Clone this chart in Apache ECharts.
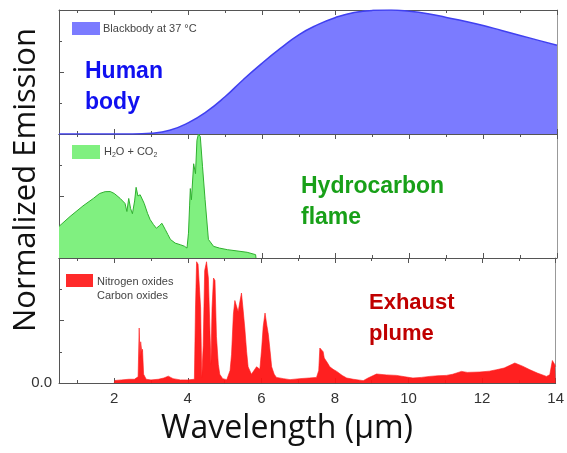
<!DOCTYPE html>
<html>
<head>
<meta charset="utf-8">
<script src="https://cdn.jsdelivr.net/npm/echarts@6/dist/echarts.min.js"></script>
<style>html,body{margin:0;padding:0;background:#fff}#c{width:567px;height:453px}</style>
</head>
<body>
<div id="c"></div>
<script>
// ---- data ----
const xMin = 0.5, xMax = 14;
const majorTickValues = [2, 4, 6, 8, 10, 12, 14];
const minorTickValues = [1, 3, 5, 7, 9, 11, 13];
const yLabelValues = [0];

const blackbodyX = [0.5, 1, 1.5, 2, 2.5, 3, 3.5, 4, 4.5, 5, 5.5, 6, 6.5, 7, 7.5, 8, 8.5, 9, 9.5, 10, 10.5, 11, 11.5, 12, 12.5, 13, 13.5, 14];
const blackbodyY = [0, 0, 0, 0, 0, 0.006, 0.03, 0.09, 0.18, 0.30, 0.44, 0.57, 0.69, 0.80, 0.88, 0.94, 0.98, 0.997, 1.0, 0.99, 0.97, 0.94, 0.91, 0.875, 0.835, 0.795, 0.755, 0.715];

const flameX = [0.5, 0.8, 1.15, 1.43, 1.6, 1.75, 1.89, 2.0, 2.16, 2.29, 2.34, 2.39, 2.44, 2.49, 2.55, 2.59, 2.64, 2.70, 2.81, 2.9, 2.97, 3.06, 3.14, 3.22, 3.29, 3.38, 3.45, 3.52, 3.65, 3.79, 3.9, 3.97, 4.01, 4.04, 4.06, 4.09, 4.15, 4.2, 4.24, 4.28, 4.33, 4.39, 4.46, 4.55, 4.69, 4.85, 5.07, 5.3, 5.6, 5.83, 5.84];
const flameY = [0.255, 0.335, 0.42, 0.48, 0.52, 0.535, 0.536, 0.52, 0.48, 0.44, 0.375, 0.48, 0.40, 0.357, 0.46, 0.57, 0.50, 0.51, 0.44, 0.36, 0.31, 0.27, 0.24, 0.26, 0.28, 0.23, 0.19, 0.15, 0.12, 0.107, 0.095, 0.08, 0.20, 0.42, 0.56, 0.47, 0.76, 0.68, 0.95, 1.0, 0.98, 0.74, 0.47, 0.15, 0.094, 0.08, 0.067, 0.058, 0.046, 0.027, 0];

const exhaustX = [2.0, 2.02, 2.2, 2.4, 2.55, 2.65, 2.68, 2.7, 2.72, 2.75, 2.77, 2.8, 2.87, 3.0, 3.2, 3.35, 3.47, 3.6, 3.8, 4.0, 4.18, 4.21, 4.24, 4.28, 4.31, 4.35, 4.38, 4.42, 4.46, 4.51, 4.56, 4.6, 4.63, 4.66, 4.7, 4.74, 4.78, 4.83, 4.87, 4.95, 5.06, 5.15, 5.19, 5.24, 5.28, 5.37, 5.41, 5.46, 5.5, 5.55, 5.6, 5.64, 5.73, 5.8, 5.87, 5.96, 6.01, 6.05, 6.1, 6.15, 6.19, 6.24, 6.28, 6.35, 6.41, 6.6, 6.78, 7.05, 7.3, 7.5, 7.56, 7.59, 7.64, 7.68, 7.71, 7.8, 7.86, 7.95, 8.05, 8.2, 8.32, 8.5, 8.77, 8.9, 9.13, 9.4, 9.67, 9.9, 10.12, 10.35, 10.58, 10.8, 11.03, 11.2, 11.44, 11.6, 11.94, 12.2, 12.39, 12.6, 12.89, 13.1, 13.3, 13.5, 13.75, 13.84, 13.91, 13.98, 14.0];
const exhaustY = [0, 0.02, 0.025, 0.03, 0.03, 0.05, 0.44, 0.2, 0.33, 0.25, 0.27, 0.07, 0.03, 0.025, 0.03, 0.04, 0.055, 0.035, 0.025, 0.025, 0.03, 0.6, 0.97, 0.95, 0.96, 0.6, 0.04, 0.3, 0.9, 0.97, 0.84, 0.45, 0.15, 0.6, 0.84, 0.82, 0.37, 0.15, 0.07, 0.035, 0.027, 0.1, 0.23, 0.55, 0.66, 0.57, 0.64, 0.72, 0.6, 0.44, 0.25, 0.13, 0.07, 0.1, 0.13, 0.11, 0.28, 0.45, 0.56, 0.46, 0.39, 0.25, 0.13, 0.07, 0.045, 0.035, 0.027, 0.035, 0.04, 0.045, 0.1, 0.28, 0.29, 0.25, 0.2, 0.16, 0.13, 0.11, 0.093, 0.06, 0.04, 0.03, 0.019, 0.04, 0.072, 0.065, 0.061, 0.05, 0.04, 0.045, 0.053, 0.058, 0.061, 0.07, 0.093, 0.085, 0.088, 0.095, 0.106, 0.12, 0.16, 0.135, 0.106, 0.08, 0.053, 0.066, 0.18, 0.146, 0.13];

// ---- chart ----
const zip = (xs, ys) => xs.map((x, i) => [x, ys[i]]);
const grids = [
  {left: 59, right: 10, top: 10, height: 124},
  {left: 59, right: 10, top: 134, height: 124},
  {left: 59, right: 10, top: 258, height: 125}
];
const axisColor = '#555';
function xAx(gi, pos, ticks, len, showLine, showLabel) {
  return {
    type: 'value', gridIndex: gi, position: pos, min: xMin, max: xMax,
    axisLine: {show: showLine, onZero: false, lineStyle: {color: axisColor, width: 1}},
    axisTick: {show: true, inside: true, length: len, customValues: ticks, lineStyle: {color: axisColor}},
    axisLabel: showLabel ? {show: true, customValues: majorTickValues, fontSize: 15, color: '#333', margin: 8, fontFamily: 'Liberation Sans'} : {show: false},
    splitLine: {show: false}
  };
}
const xAxes = [], yAxes = [];
for (let g = 0; g < 3; g++) {
  xAxes.push(xAx(g, 'bottom', majorTickValues, 5, true, g === 2));
  xAxes.push(xAx(g, 'bottom', minorTickValues, 3, false, false));
  xAxes.push(xAx(g, 'top', majorTickValues, 5, true, false));
  xAxes.push(xAx(g, 'top', minorTickValues, 3, false, false));
  yAxes.push({
    type: 'value', gridIndex: g, position: 'left', min: 0, max: 1, interval: 0.5,
    axisLine: {show: true, lineStyle: {color: axisColor}},
    axisTick: {show: true, inside: true, length: 5, lineStyle: {color: axisColor}},
    minorTick: {show: true, splitNumber: 2, length: 3, lineStyle: {color: axisColor}},
    axisLabel: g === 2 ? {show: true, customValues: yLabelValues, formatter: v => v.toFixed(1), fontSize: 15, color: '#333', margin: 7, fontFamily: 'Liberation Sans'} : {show: false},
    splitLine: {show: false}
  });
  yAxes.push({
    type: 'value', gridIndex: g, position: 'right', min: 0, max: 1,
    axisLine: {show: true, lineStyle: {color: '#999'}},
    axisTick: {show: false}, axisLabel: {show: false}, splitLine: {show: false}
  });
}
function areaSeries(g, xs, ys, line, fill, smooth, lw) {
  return {
    type: 'line', xAxisIndex: g * 4, yAxisIndex: g * 2, data: zip(xs, ys),
    showSymbol: false, smooth: smooth, z: 1,
    lineStyle: {color: line, width: lw}, areaStyle: {color: fill, opacity: 1},
    clip: true, animation: false
  };
}
const legendFont = '11px "Liberation Sans"';
const option = {
  animation: false,
  grid: grids,
  xAxis: xAxes,
  yAxis: yAxes,
  series: [
    areaSeries(0, blackbodyX, blackbodyY, '#4040f0', '#7b7bff', true, 1.5),
    areaSeries(1, flameX, flameY, '#30b030', '#80f080', false, 1),
    areaSeries(2, exhaustX, exhaustY, '#ff1a1a', 'rgba(255,20,20,0.95)', false, 0.6)
  ],
  graphic: [
    {type: 'rect', shape: {x: 72, y: 22, width: 28, height: 13}, style: {fill: '#7b7bff'}},
    {type: 'text', x: 103, y: 28.5, style: {text: 'Blackbody at 37 °C', font: legendFont, fill: '#444', verticalAlign: 'middle'}},
    {type: 'rect', shape: {x: 72, y: 145, width: 28, height: 14}, style: {fill: '#80f080'}},
    {type: 'text', x: 104, y: 152, style: {
      text: 'H{s|2}O + CO{s|2}', font: legendFont, fill: '#444', verticalAlign: 'middle',
      rich: {s: {fontSize: 7, fill: '#444', padding: [6, 0, 0, 0]}}
    }},
    {type: 'rect', shape: {x: 66, y: 274, width: 27, height: 13}, style: {fill: '#ff2a2a'}},
    {type: 'text', x: 97, y: 282, style: {text: 'Nitrogen oxides', font: legendFont, fill: '#444', verticalAlign: 'middle'}},
    {type: 'text', x: 97, y: 296, style: {text: 'Carbon oxides', font: legendFont, fill: '#444', verticalAlign: 'middle'}},

    {type: 'text', x: 85, y: 72, style: {text: 'Human', font: 'bold 23px "Liberation Sans"', fill: '#1010f0', verticalAlign: 'middle'}},
    {type: 'text', x: 85, y: 103, style: {text: 'body', font: 'bold 23px "Liberation Sans"', fill: '#1010f0', verticalAlign: 'middle'}},
    {type: 'text', x: 301, y: 187, style: {text: 'Hydrocarbon', font: 'bold 23px "Liberation Sans"', fill: '#18a018', verticalAlign: 'middle'}},
    {type: 'text', x: 301, y: 218, style: {text: 'flame', font: 'bold 23px "Liberation Sans"', fill: '#18a018', verticalAlign: 'middle'}},
    {type: 'text', x: 369, y: 303, style: {text: 'Exhaust', font: 'bold 22px "Liberation Sans"', fill: '#c00000', verticalAlign: 'middle'}},
    {type: 'text', x: 369, y: 334, style: {text: 'plume', font: 'bold 22px "Liberation Sans"', fill: '#c00000', verticalAlign: 'middle'}},

    {type: 'text', x: 26, y: 180, rotation: Math.PI / 2, style: {text: 'Normalized Emission', font: '31px "Open Sans"', fill: '#111', align: 'center', verticalAlign: 'middle'}},
    {type: 'text', x: 287, y: 429, style: {text: 'Wavelength (µm)', font: '32px "Open Sans"', fill: '#111', align: 'center', verticalAlign: 'middle'}}
  ]
};
const chart = echarts.init(document.getElementById('c'), null, {renderer: 'canvas'});
chart.setOption(option);
</script>
</body>
</html>
